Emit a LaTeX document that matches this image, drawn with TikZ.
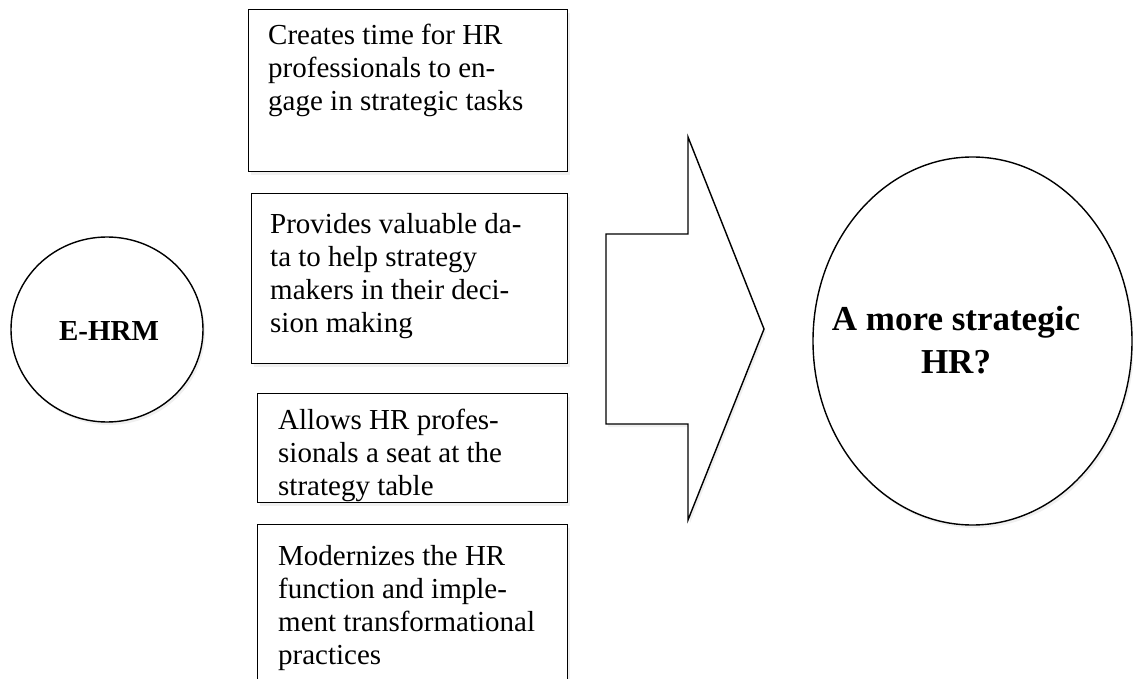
\documentclass[tikz,border=0pt]{standalone}
\usepackage{fontspec}
\setmainfont{Liberation Serif}
\usetikzlibrary{shadows,shapes.geometric}

\begin{document}
\begin{tikzpicture}[x=1pt, y=-1pt,
    soft/.style={drop shadow={opacity=0.12, shadow xshift=2pt, shadow yshift=-3pt}},
    box/.style={rectangle, draw, line width=1.4pt, fill=white, soft, anchor=north west, inner sep=0pt},
    boxtext/.style={anchor=base west, inner sep=0pt, align=left, font=\fontsize{29}{33}\selectfont},
    blob/.style={ellipse, draw, line width=1.4pt, fill=white, soft, inner sep=0pt}]
    \useasboundingbox (0,0) rectangle (1133,679);
    \clip (0,0) rectangle (1133,679);

    % 左の円
    \node[blob, minimum width=192pt, minimum height=185pt] (ehrm) at (107,329.5) {};
    \node[font=\fontsize{29}{33}\selectfont\bfseries, inner sep=0pt] (ehrmtext) at (109,331) {E-HRM};

    % 四つの箱
    \node[box, minimum width=319pt, minimum height=162pt] (b1) at (248,9) {};
    \node[box, minimum width=316pt, minimum height=170pt] (b2) at (251,193) {};
    \node[box, minimum width=310pt, minimum height=109pt] (b3) at (257,393) {};
    \node[box, minimum width=310pt, minimum height=175pt] (b4) at (257,524) {};

    % 箱の中の文 (最後の行のベースライン)
    \node[boxtext] (t1) at (268,111) {Creates time for HR\\professionals to en-\\gage in strategic tasks};
    \node[boxtext] (t2) at (270,332) {Provides valuable da-\\ta to help strategy\\makers in their deci-\\sion making};
    \node[boxtext] (t3) at (278,495) {Allows HR profes-\\sionals a seat at the\\strategy table};
    \node[boxtext] (t4) at (278,664) {Modernizes the HR\\function and imple-\\ment transformational\\practices};

    % 大きな矢印
    \draw[line width=1.4pt, fill=white, soft, line join=miter]
        (606,234) -- (688,234) -- (688,137) -- (764,329) -- (688,520) -- (688,424) -- (606,424) -- cycle;

    % 右の楕円
    \node[blob, minimum width=319pt, minimum height=368pt] (goal) at (972.5,341) {};
    \node[font=\fontsize{35}{43}\selectfont\bfseries, align=center, inner sep=0pt] (goaltext) at (956,340) {A more strategic\\HR?};
\end{tikzpicture}
\end{document}
